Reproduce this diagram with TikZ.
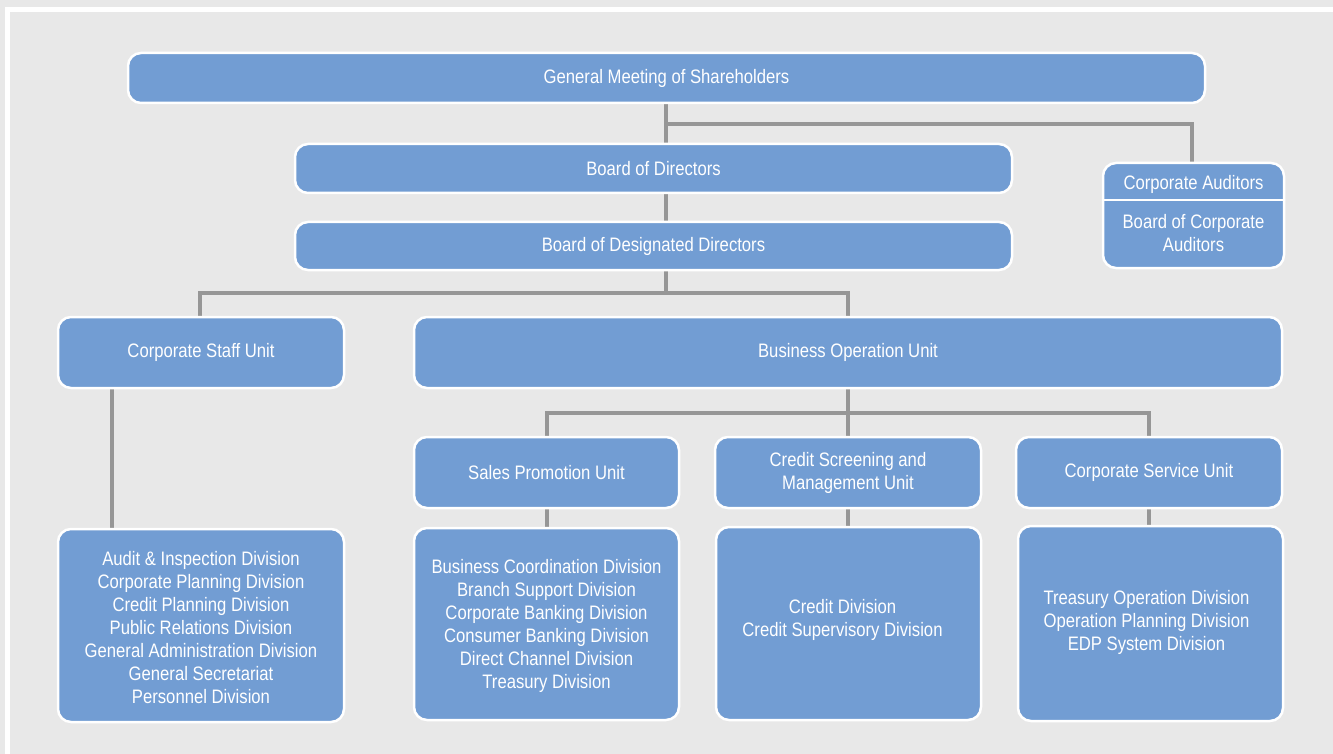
\documentclass[tikz,border=0pt]{standalone}
\usepackage{fontspec}
\newfontfamily\orgfont{Liberation Sans}[FakeStretch=0.855]
\definecolor{boxblue}{RGB}{114,157,211}
\definecolor{bggrey}{RGB}{232,232,232}
\definecolor{lngrey}{RGB}{150,150,150}
\tikzset{
  orgbox/.style={draw=white,line width=2.5pt,fill=boxblue,rounded corners=13pt,inner sep=0pt,
    text=white,align=center,font=\orgfont\fontsize{19.5}{23}\selectfont},
  orgtxt/.style={text=white,align=center,inner sep=0pt,font=\orgfont\fontsize{19.5}{23}\selectfont},
  conn/.style={draw=lngrey,line width=4pt}
}
\begin{document}
\begin{tikzpicture}[x=1pt,y=-1pt]
\useasboundingbox(0,0)rectangle(1333,754);
\fill[bggrey](0,0)rectangle(1333,754);
\draw[white,line width=5pt](7.5,754)--(7.5,9.5)--(1333,9.5);
\coordinate(j1)at(666,124);
\coordinate(j2)at(666,293);
\coordinate(j3)at(848,413);
\coordinate(cs)at(112,450);
\draw[conn](666,90)--(666,150);
\draw[conn](j1)-|(1192,170);
\draw[conn](666,190)--(666,225);
\draw[conn](666,265)--(j2);
\draw[conn](200,325)|-(848,293)--(848,325);
\draw[conn](cs|-0,380)--(cs|-0,535);
\draw[conn](848,380)--(848,445);
\draw[conn](546.5,445)|-(j3)-|(1149,445);
\foreach \x in {546.5,848,1149}{\draw[conn](\x,500)--(\x,535);}
\node[orgbox,minimum width=1077,minimum height=50](gms)at(666.5,78){General Meeting of Shareholders};
\node[orgbox,minimum width=717,minimum height=49](bod)at(653.5,168.5){Board of Directors};
\node[orgbox,minimum width=717,minimum height=48](bdd)at(653.5,246){Board of Designated Directors};
\node[orgbox,minimum width=181,minimum height=105](aud)at(1193.5,215.5){};
\draw[white,line width=2pt](aud.west|-0,200.5)--(aud.east|-0,200.5);
\node[orgtxt](audt)at(1193.5,184.5){Corporate Auditors};
\node[orgtxt](audb)at(1193.5,233.5){Board of Corporate\\Auditors};
\node[orgbox,minimum width=286,minimum height=71](csu)at(201,352.5){Corporate Staff Unit};
\node[orgbox,minimum width=868,minimum height=71](bou)at(848,352.5){Business Operation Unit};
\node[orgbox,minimum width=265,minimum height=71](spu)at(546.5,472.5){Sales Promotion Unit};
\node[orgbox,minimum width=266,minimum height=71](csm)at(848,472.5){Credit Screening and\\Management Unit};
\node[orgbox,minimum width=266,minimum height=71](cvu)at(1149,472.5){Corporate Service Unit};
\node[orgbox,minimum width=286,minimum height=193](csd)at(201,625.5){};
\node[orgtxt](csdt)at(201,628){Audit \& Inspection Division\\Corporate Planning Division\\Credit Planning Division\\Public Relations Division\\General Administration Division\\General Secretariat\\Personnel Division};
\node[orgbox,minimum width=265,minimum height=192](spd)at(546.5,624){};
\node[orgtxt](spdt)at(546.5,625.5){Business Coordination Division\\Branch Support Division\\Corporate Banking Division\\Consumer Banking Division\\Direct Channel Division\\Treasury Division};
\node[orgbox,minimum width=265,minimum height=193](cmd)at(848.5,623.5){};
\node[orgtxt](cmdt)at(842.5,620){Credit Division\\Credit Supervisory Division};
\node[orgbox,minimum width=265,minimum height=195](cvd)at(1150.5,623.5){};
\node[orgtxt](cvdt)at(1146.5,622){Treasury Operation Division\\Operation Planning Division\\EDP System Division};
\end{tikzpicture}
\end{document}
